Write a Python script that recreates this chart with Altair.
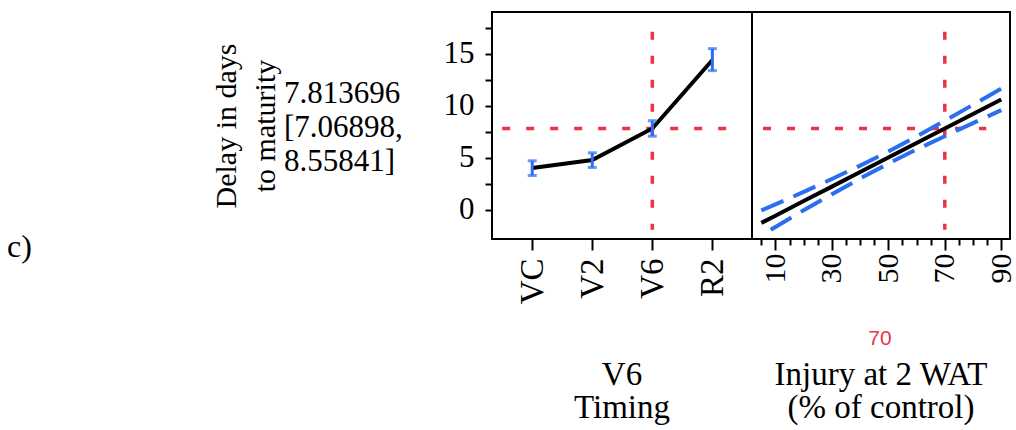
import json
import altair as alt
import pandas as pd

# ---------------- data ----------------
timing = ["VC", "V2", "V6", "R2"]
timing_pos = [0, 1, 2, 3]
delay_mean = [4.01, 4.78, 7.81, 14.39]
delay_lower = [3.30, 4.07, 7.07, 13.37]
delay_upper = [4.71, 5.48, 8.56, 15.48]

injury = [5, 10, 20, 30, 40, 50, 60, 70, 80, 90]
injury_fit = [-1.25, -0.56, 0.84, 2.23, 3.63, 5.02, 6.42, 7.81, 9.21, 10.60]
injury_upper = [-0.05, 0.52, 1.72, 2.96, 4.25, 5.60, 7.04, 8.56, 10.09, 11.63]
injury_lower = [-2.45, -1.64, -0.04, 1.50, 3.01, 4.44, 5.80, 7.07, 8.33, 9.57]

current_timing = 2          # V6
current_injury = 70
current_pred = 7.813696
current_ci = [7.06898, 8.55841]

cross_y_span = [-1.92, 17.1]
cross_x1_span = [-0.5, 3.23]
cross_x2_span = [5.6, 84.7]

y_ticks = [0, 2.5, 5, 7.5, 10, 12.5, 15, 17.5]
x2_ticks = list(range(5, 95, 5))

BLUE = "#2A6EF2"
RED = "#EB3349"
SERIF = "Liberation Serif"

# ---------------- tables ----------------
df_t = pd.DataFrame({"pos": timing_pos, "mean": delay_mean,
                     "lo": delay_lower, "hi": delay_upper})
df_i = pd.DataFrame({"inj": injury, "fit": injury_fit,
                     "up": injury_upper, "lo": injury_lower})
df_h1 = pd.DataFrame({"a": [cross_x1_span[0]], "b": [cross_x1_span[1]], "y": [current_pred]})
df_v1 = pd.DataFrame({"x": [current_timing], "y1": [cross_y_span[1]], "y2": [cross_y_span[0]]})
df_h2 = pd.DataFrame({"a": [cross_x2_span[0]], "b": [cross_x2_span[1]], "y": [current_pred]})
df_v2 = pd.DataFrame({"x": [current_injury], "y1": [cross_y_span[1]], "y2": [cross_y_span[0]]})

# ---------------- scales / axes ----------------
y_scale = alt.Scale(domain=[-2.8, 19.0], nice=False, zero=False)
x1_scale = alt.Scale(domain=[-0.67, 3.66], range=[0, 260], nice=False, zero=False)
x2_scale = alt.Scale(domain=[1.7, 93.1], range=[260, 518], nice=False, zero=False)

y_axis = alt.Axis(values=y_ticks, labelExpr="datum.value % 5 == 0 ? format(datum.value, 'd') : ''",
                  tickSize=7, tickWidth=2, tickColor="black", domain=False, grid=False,
                  labelFont=SERIF, labelFontSize=31, labelColor="black", labelPadding=11,
                  title=None, labelOverlap=False)

x1_axis = alt.Axis(values=timing_pos, labelExpr="%s[datum.value]" % json.dumps(timing),
                   orient="bottom", labelAngle=270, tickSize=11, tickWidth=2, tickColor="black",
                   domain=False, grid=False, labelFont=SERIF, labelFontSize=33,
                   labelColor="black", labelPadding=8, title=None,
                   labelOverlap=False, labelFlush=False)

x2_axis = alt.Axis(values=x2_ticks, labelExpr="datum.value % 20 == 10 ? format(datum.value, 'd') : ''",
                   orient="bottom", labelAngle=270,
                   tickSize={"condition": {"test": "datum.value % 20 == 10", "value": 11}, "value": 6},
                   tickWidth=2, tickColor="black", domain=False, grid=False,
                   labelFont=SERIF, labelFontSize=30, labelColor="black", labelPadding=3,
                   title=None, labelOverlap=False, labelFlush=False)

# ---------------- panel 1: Timing ----------------
b1 = alt.Chart(df_t)
p1_h = alt.Chart(df_h1).mark_rule(color=RED, strokeWidth=3.5, strokeDash=[8, 16]).encode(
    x=alt.X("a:Q", scale=x1_scale, axis=x1_axis), x2="b:Q",
    y=alt.Y("y:Q", scale=y_scale, axis=y_axis))
p1_v = alt.Chart(df_v1).mark_rule(color=RED, strokeWidth=3.5, strokeDash=[8, 16]).encode(
    x=alt.X("x:Q", scale=x1_scale, axis=x1_axis),
    y=alt.Y("y1:Q", scale=y_scale, axis=y_axis), y2="y2:Q")
p1_line = b1.mark_line(color="black", strokeWidth=4).encode(
    x=alt.X("pos:Q", scale=x1_scale, axis=x1_axis),
    y=alt.Y("mean:Q", scale=y_scale, axis=y_axis))
p1_bar = b1.mark_rule(color=BLUE, strokeWidth=3).encode(
    x=alt.X("pos:Q", scale=x1_scale, axis=x1_axis),
    y=alt.Y("lo:Q", scale=y_scale, axis=y_axis), y2="hi:Q")
p1_cap_lo = b1.mark_tick(color=BLUE, thickness=3, size=9, orient="horizontal").encode(
    x=alt.X("pos:Q", scale=x1_scale, axis=x1_axis),
    y=alt.Y("lo:Q", scale=y_scale, axis=y_axis))
p1_cap_hi = b1.mark_tick(color=BLUE, thickness=3, size=9, orient="horizontal").encode(
    x=alt.X("pos:Q", scale=x1_scale, axis=x1_axis),
    y=alt.Y("hi:Q", scale=y_scale, axis=y_axis))
panel1 = alt.layer(p1_h, p1_v, p1_line, p1_bar, p1_cap_lo, p1_cap_hi)

# ---------------- panel 2: Injury ----------------
b2 = alt.Chart(df_i)
p2_h = alt.Chart(df_h2).mark_rule(color=RED, strokeWidth=3.5, strokeDash=[8, 16]).encode(
    x=alt.X("a:Q", scale=x2_scale, axis=x2_axis), x2="b:Q",
    y=alt.Y("y:Q", scale=y_scale, axis=y_axis))
p2_v = alt.Chart(df_v2).mark_rule(color=RED, strokeWidth=3.5, strokeDash=[8, 16]).encode(
    x=alt.X("x:Q", scale=x2_scale, axis=x2_axis),
    y=alt.Y("y1:Q", scale=y_scale, axis=y_axis), y2="y2:Q")
p2_up = b2.mark_line(color=BLUE, strokeWidth=4, strokeDash=[24, 11]).encode(
    x=alt.X("inj:Q", scale=x2_scale, axis=x2_axis),
    y=alt.Y("up:Q", scale=y_scale, axis=y_axis))
p2_lo = b2.mark_line(color=BLUE, strokeWidth=4, strokeDash=[24, 11], strokeDashOffset=24).encode(
    x=alt.X("inj:Q", scale=x2_scale, axis=x2_axis),
    y=alt.Y("lo:Q", scale=y_scale, axis=y_axis))
p2_fit = b2.mark_line(color="black", strokeWidth=4).encode(
    x=alt.X("inj:Q", scale=x2_scale, axis=x2_axis),
    y=alt.Y("fit:Q", scale=y_scale, axis=y_axis))
panel2 = alt.layer(p2_h, p2_v, p2_up, p2_lo, p2_fit)

# ---------------- decorations & text ----------------
one = alt.Data(values=[{}])
divider = alt.Chart(one).mark_rule(color="black", strokeWidth=2).encode(
    x=alt.value(260), y=alt.value(0), y2=alt.value(227))

def txt(text, x, y, **kw):
    base = dict(font=SERIF, fontSize=31, color="black", baseline="alphabetic")
    base.update(kw)
    return alt.Chart(one).mark_text(**base).encode(
        x=alt.value(x), y=alt.value(y), text=alt.value(text))

t_c = txt("c)", -485, 245, align="left", fontSize=32)
t_ytitle = txt(["Delay in days", "to maturity"], -256, 114, align="center", angle=270,
               lineHeight=39, fontSize=30)
t_pred = txt(["%.6f" % current_pred, "[%.5f," % current_ci[0], "%.5f]" % current_ci[1]],
             -208, 91, align="left", lineHeight=34, fontSize=31)
t_x1 = txt([timing[current_timing], "Timing"], 130, 373, align="center", lineHeight=33, fontSize=33)
t_x2 = txt(["Injury at 2 WAT", "(% of control)"], 389, 373, align="center", lineHeight=33, fontSize=33)
t_cur = txt(str(current_injury), 388, 333, align="center", font="Liberation Sans",
            fontSize=21, color=RED)

chart = alt.layer(panel1, panel2, divider, t_c, t_ytitle, t_pred, t_x1, t_x2, t_cur).resolve_scale(
    x="independent").resolve_axis(x="independent").properties(
    width=518, height=227,
    padding={"left": 492, "top": 12, "right": 6, "bottom": 191},
    autosize=alt.AutoSizeParams(type="none"),
    background="white",
).configure_view(stroke="black", strokeWidth=2)

chart.save("out.html", embed_options={"renderer": "svg", "actions": False})
